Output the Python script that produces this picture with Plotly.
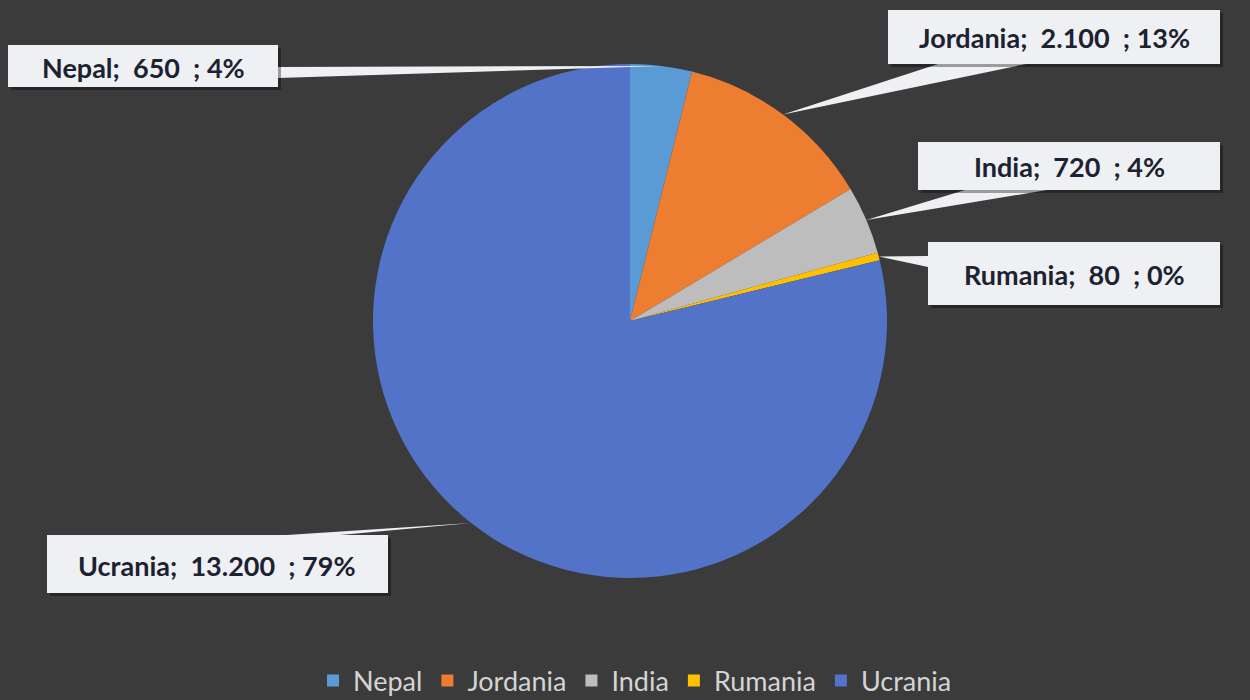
import math
import plotly.graph_objects as go

# ---- data ----
countries = ["Nepal", "Jordania", "India", "Rumania", "Ucrania"]
values = [650, 2100, 720, 80, 13200]
colors = ["#5b9bd5", "#ed7d31", "#bdbdbd", "#ffc000", "#5273c8"]

W, H = 1250, 700
BG = "#3b3b3b"

# pie geometry (pixels)
CX, CY, R = 630, 321, 257

def P(x, y):
    return x / W, 1 - y / H

def fmt(v):
    return f"{v:,}".replace(",", ".")

total = sum(values)
pcts = [round(v / total * 100) for v in values]
labels_txt = [f"<b>{c};  {fmt(v)}  ; {p}%</b>" for c, v, p in zip(countries, values, pcts)]

# box layout (pixels) and wedge bases
boxes = {
    "Nepal": (8, 45, 278, 87),
    "Jordania": (888, 10, 1220, 64),
    "India": (918, 142, 1220, 190),
    "Rumania": (928, 242, 1220, 305),
    "Ucrania": (47, 535, 388, 593),
}
bases = {
    "Nepal": ((278, 67), (278, 78)),
    "Jordania": ((938, 64), (1026, 64)),
    "India": ((965, 190), (1047, 190)),
    "Rumania": ((928, 256), (928, 267)),
    "Ucrania": ((287, 535), (340, 535)),
}

fig = go.Figure()
fig.add_trace(go.Pie(
    labels=countries, values=values, sort=False, direction="clockwise", rotation=0,
    marker=dict(colors=colors, line=dict(width=0)),
    textinfo="none", hoverinfo="label+value+percent",
    domain=dict(x=[(CX - R) / W, (CX + R) / W], y=[1 - (CY + R) / H, 1 - (CY - R) / H]),
))

shapes = []
annotations = []
cum = 0
for c, v, t in zip(countries, values, labels_txt):
    mid = (cum + v / 2) / total * 2 * math.pi
    cum += v
    tx, ty = CX + R * math.sin(mid), CY - R * math.cos(mid)
    (b1x, b1y), (b2x, b2y) = bases[c]
    p0, p1, p2 = P(tx, ty), P(b1x, b1y), P(b2x, b2y)
    shapes.append(dict(type="path", xref="paper", yref="paper", layer="above",
                       path=f"M {p0[0]} {p0[1]} L {p1[0]} {p1[1]} L {p2[0]} {p2[1]} Z",
                       fillcolor="#eef0f4", line=dict(width=0)))
    x0, y0, x1, y1 = boxes[c]
    s0, s1 = P(x0 + 3, y1 + 3), P(x1 + 3, y0 + 3)
    shapes.append(dict(type="rect", xref="paper", yref="paper", layer="above",
                       x0=s0[0], y0=s0[1], x1=s1[0], y1=s1[1],
                       fillcolor="rgba(0,0,0,0.35)", line=dict(width=0)))
    b0, b1 = P(x0, y1), P(x1, y0)
    shapes.append(dict(type="rect", xref="paper", yref="paper", layer="above",
                       x0=b0[0], y0=b0[1], x1=b1[0], y1=b1[1],
                       fillcolor="#eef0f4", line=dict(width=0)))
    cx, cy = P((x0 + x1) / 2, (y0 + y1) / 2 + 1)
    annotations.append(dict(x=cx, y=cy, xref="paper", yref="paper", text=t,
                            showarrow=False, xanchor="center", yanchor="middle",
                            font=dict(family="Lato, Open Sans, Arial", size=27, color="#1c2230")))

fig.update_layout(
    width=W, height=H,
    margin=dict(l=0, r=0, t=0, b=0, autoexpand=False),
    paper_bgcolor=BG, plot_bgcolor=BG,
    shapes=shapes, annotations=annotations,
    showlegend=True,
    legend=dict(orientation="h", x=0.508, xanchor="center", y=1 - 681 / H, yanchor="middle",
                font=dict(family="Lato, Open Sans, Arial", size=27, color="#d4d4d4"),
                itemwidth=30, traceorder="normal", bgcolor="rgba(0,0,0,0)"),
)

fig.write_html("out.html", config={"displayModeBar": False},
               post_script="document.body.style.margin='0';")
